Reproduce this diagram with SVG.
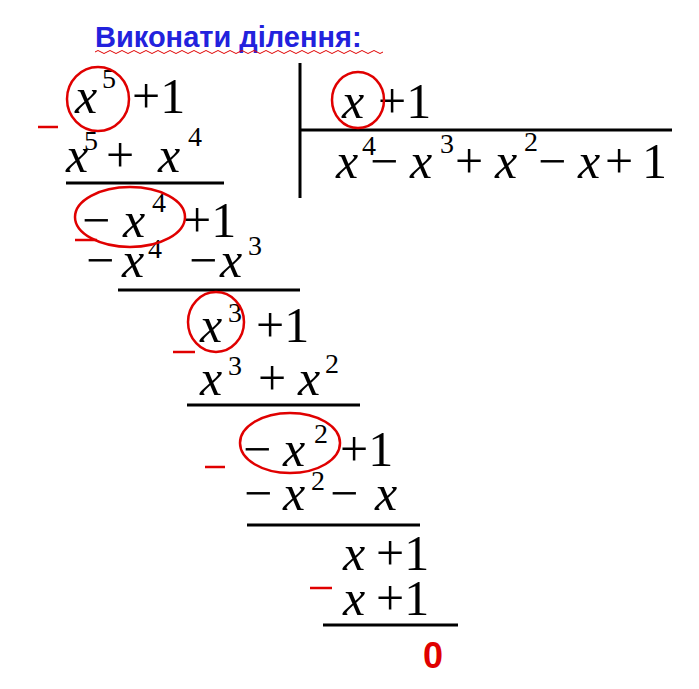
<svg xmlns="http://www.w3.org/2000/svg" width="699" height="689" viewBox="0 0 699 689">
<style>
.m{font-family:"Liberation Serif",serif;font-size:50px;fill:#000}
.i{font-style:italic}
.s{font-size:28px}
.r{fill:#e00000;font-family:"Liberation Sans",sans-serif;font-size:36px}
.l{stroke:#000;stroke-width:3}
.e{fill:none;stroke:#e00000;stroke-width:2.5}
.rm{stroke:#e00000;stroke-width:2.5}
</style>
<rect width="699" height="689" fill="#fff"/>
<text x="95" y="47" font-family="Liberation Sans,sans-serif" font-size="29" font-weight="bold" fill="#2222dd">Виконати ділення:</text>
<path d="M95 52 q3 -3 6 0 t6 0 t6 0 t6 0 t6 0 t6 0 t6 0 t6 0 t6 0 t6 0 t6 0 t6 0 t6 0 t6 0 t6 0 t6 0 t6 0 t6 0 t6 0 t6 0 t6 0 t6 0 t6 0 t6 0 t6 0 t6 0 t6 0 t6 0 t6 0 t6 0 t6 0 t6 0 t6 0 t6 0 t6 0 t6 0 t6 0 t6 0 t6 0 t6 0 t6 0 t6 0 t6 0 t6 0 t6 0 t6 0 t6 0 t6 0" fill="none" stroke="#e00000" stroke-width="1"/>
<g class="m">
<text x="75" y="113" class="m i">x</text><text x="102" y="88" class="m s">5</text><text x="132" y="113" class="m">+1</text>
<text x="66" y="172" class="m i">x</text><text x="84" y="150" class="m s">5</text><text x="106" y="172" class="m">+</text><text x="158" y="172" class="m i">x</text><text x="188" y="146" class="m s">4</text>
<text x="82" y="237" class="m">−</text><text x="123" y="237" class="m i">x</text><text x="152" y="212" class="m s">4</text><text x="183" y="237" class="m">+1</text>
<text x="86" y="277" class="m">−</text><text x="122" y="277" class="m i">x</text><text x="148" y="258" class="m s">4</text><text x="189" y="277" class="m">−</text><text x="220" y="277" class="m i">x</text><text x="248" y="255" class="m s">3</text>
<text x="200" y="342" class="m i">x</text><text x="228" y="322" class="m s">3</text><text x="256" y="342" class="m">+1</text>
<text x="200" y="395" class="m i">x</text><text x="228" y="375" class="m s">3</text><text x="258" y="395" class="m">+</text><text x="298" y="395" class="m i">x</text><text x="325" y="373" class="m s">2</text>
<text x="243" y="466" class="m">−</text><text x="283" y="466" class="m i">x</text><text x="314" y="443" class="m s">2</text><text x="340" y="466" class="m">+1</text>
<text x="244" y="510" class="m">−</text><text x="283" y="510" class="m i">x</text><text x="311" y="490" class="m s">2</text><text x="330" y="510" class="m">−</text><text x="375" y="510" class="m i">x</text>
<text x="343" y="570" class="m i">x</text><text x="376" y="570" class="m">+1</text>
<text x="343" y="615" class="m i">x</text><text x="376" y="615" class="m">+1</text>
<text x="342" y="118" class="m i">x</text><text x="378" y="118" class="m">+1</text>
<text x="336" y="178" class="m i">x</text><text x="362" y="155" class="m s">4</text><text x="370" y="178" class="m">−</text><text x="410" y="178" class="m i">x</text><text x="440" y="153" class="m s">3</text><text x="455" y="178" class="m">+</text><text x="495" y="178" class="m i">x</text><text x="524" y="151" class="m s">2</text><text x="538" y="178" class="m">−</text><text x="578" y="178" class="m i">x</text><text x="605" y="178" class="m">+</text><text x="642" y="178" class="m">1</text>
</g>
<line class="l" x1="66" y1="183" x2="224" y2="183"/>
<line class="l" x1="118" y1="290" x2="300" y2="290"/>
<line class="l" x1="187" y1="405" x2="360" y2="405"/>
<line class="l" x1="247" y1="525" x2="420" y2="525"/>
<line class="l" x1="323" y1="625" x2="458" y2="625"/>
<line class="l" x1="300" y1="63" x2="300" y2="198"/>
<line class="l" x1="300" y1="130" x2="672" y2="130"/>
<line class="rm" x1="38" y1="127" x2="58" y2="127"/>
<line class="rm" x1="75" y1="240" x2="97" y2="240"/>
<line class="rm" x1="173" y1="352" x2="195" y2="352"/>
<line class="rm" x1="205" y1="467" x2="225" y2="467"/>
<line class="rm" x1="310" y1="588" x2="332" y2="588"/>
<ellipse class="e" cx="98" cy="99" rx="31" ry="32"/>
<ellipse class="e" cx="130" cy="217" rx="55" ry="30"/>
<ellipse class="e" cx="216" cy="322" rx="28" ry="30"/>
<ellipse class="e" cx="290" cy="443" rx="50" ry="30"/>
<ellipse class="e" cx="358" cy="100" rx="26" ry="28"/>
<text x="423" y="668" class="r" font-weight="bold">0</text>
</svg>
